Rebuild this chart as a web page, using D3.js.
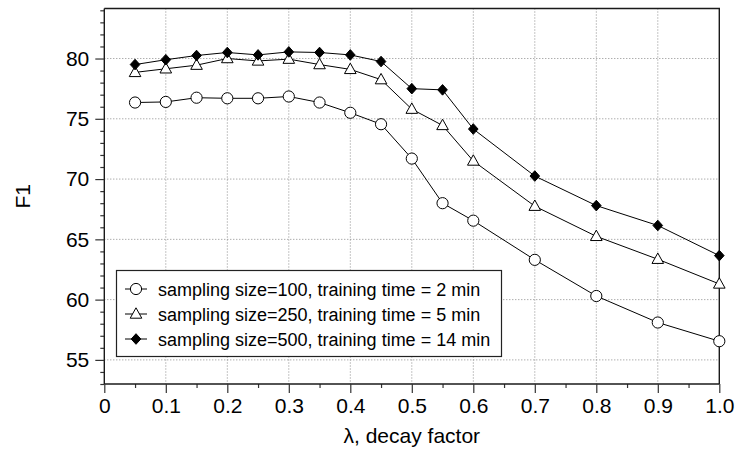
<!DOCTYPE html>
<html>
<head>
<meta charset="utf-8">
<script src="https://cdn.jsdelivr.net/npm/d3@7"></script>
<style>
  html, body { margin: 0; padding: 0; background: #fff; }
  svg { display: block; font-family: "Liberation Sans", Arial, Helvetica, sans-serif; }
</style>
</head>
<body>
<svg id="chart" width="737" height="449"></svg>
<script>
// ---- data ----
const lambdas = [0.05, 0.1, 0.15, 0.2, 0.25, 0.3, 0.35, 0.4, 0.45, 0.5, 0.55, 0.6, 0.7, 0.8, 0.9, 1.0];
const f1Size100 = [76.35, 76.4, 76.75, 76.7, 76.7, 76.85, 76.35, 75.5, 74.55, 71.7, 68.0, 66.55, 63.3, 60.3, 58.1, 56.55];
const f1Size250 = [78.85, 79.15, 79.45, 80.0, 79.8, 79.95, 79.5, 79.1, 78.25, 75.8, 74.45, 71.5, 67.75, 65.25, 63.35, 61.3];
const f1Size500 = [79.5, 79.9, 80.25, 80.5, 80.3, 80.55, 80.5, 80.3, 79.75, 77.5, 77.4, 74.15, 70.25, 67.8, 66.15, 63.65];
const seriesLabels = [
  "sampling size=100, training time = 2 min",
  "sampling size=250, training time = 5 min",
  "sampling size=500, training time = 14 min"
];
const xTicks = [0, 0.1, 0.2, 0.3, 0.4, 0.5, 0.6, 0.7, 0.8, 0.9, 1.0];
const xTickLabels = ["0", "0.1", "0.2", "0.3", "0.4", "0.5", "0.6", "0.7", "0.8", "0.9", "1.0"];
const yTicks = [55, 60, 65, 70, 75, 80];
const xLabel = "λ, decay factor";
const yLabel = "F1";

// ---- layout ----
const svg = d3.select("#chart");
const pL = 104.3, pR = 719.3, pT = 8.5, pB = 384;
const x = d3.scaleLinear().domain([0, 1]).range([pL, pR]);
const y = d3.scaleLinear().domain([53, 84.15]).range([pB, pT]);

// gridlines
const grid = svg.append("g").attr("stroke", "#8a8a8a").attr("stroke-width", 1).attr("stroke-dasharray", "1,2");
xTicks.filter(v => v > 0 && v < 1).forEach(v => {
  grid.append("line").attr("x1", x(v)).attr("x2", x(v)).attr("y1", pT).attr("y2", pB);
});
yTicks.forEach(v => {
  grid.append("line").attr("x1", pL).attr("x2", pR).attr("y1", y(v)).attr("y2", y(v));
});

// frame top and right
svg.append("path")
  .attr("d", `M${pL},${pT}H${pR}V${pB}`)
  .attr("fill", "none").attr("stroke", "#1a1a1a").attr("stroke-width", 1.4);

// minor ticks
const xMinor = d3.range(0.05, 1, 0.1);
const yMinor = d3.range(53, 85, 1).filter(v => v % 5 !== 0);
const xMinorAxis = d3.axisBottom(x).tickValues(xMinor).tickSize(4).tickFormat("");
const yMinorAxis = d3.axisLeft(y).tickValues(yMinor).tickSize(4).tickFormat("");
svg.append("g").attr("transform", `translate(0,${pB})`).call(xMinorAxis)
  .call(g => g.select(".domain").remove());
svg.append("g").attr("transform", `translate(${pL},0)`).call(yMinorAxis)
  .call(g => g.select(".domain").remove());

// major axes
const xAxis = d3.axisBottom(x).tickValues(xTicks).tickSize(9).tickPadding(5)
  .tickFormat((d, i) => xTickLabels[i]);
const yAxis = d3.axisLeft(y).tickValues(yTicks).tickSize(9).tickPadding(6).tickFormat(d3.format("d"));
const gx = svg.append("g").attr("transform", `translate(0,${pB})`).call(xAxis);
const gy = svg.append("g").attr("transform", `translate(${pL},0)`).call(yAxis);
[gx, gy].forEach(g => {
  g.select(".domain").attr("stroke", "#1a1a1a").attr("stroke-width", 1.4);
  g.selectAll("text").attr("font-size", 21).attr("fill", "#000")
    .attr("font-family", "'Liberation Sans', Arial, sans-serif");
});
svg.selectAll(".tick line").attr("stroke", "#333").attr("stroke-width", 1.2);
gx.select(".domain").attr("d", `M${pL},0H${pR}`);
gy.select(".domain").attr("d", `M0,${pB}V${pT}`);

// axis labels
svg.append("text").attr("x", (pL + pR) / 2).attr("y", 443)
  .attr("text-anchor", "middle").attr("font-size", 21).text(xLabel);
svg.append("text").attr("transform", `translate(30,${(pT + pB) / 2}) rotate(-90)`)
  .attr("text-anchor", "middle").attr("font-size", 21).text(yLabel);

// symbols
const diamondType = { draw(ctx, size) { ctx.moveTo(0, -5.3); ctx.lineTo(4.8, 0); ctx.lineTo(0, 5.3); ctx.lineTo(-4.8, 0); ctx.closePath(); } };
const circleType = { draw(ctx, size) { ctx.moveTo(5.6, 0); ctx.arc(0, 0, 5.6, 0, Math.PI * 2); } };
const triType = { draw(ctx, size) { ctx.moveTo(0, -6.2); ctx.lineTo(5.8, 4.2); ctx.lineTo(-5.8, 4.2); ctx.closePath(); } };
const series = [
  { values: f1Size100, sym: circleType, fill: "#fff" },
  { values: f1Size250, sym: triType, fill: "#fff" },
  { values: f1Size500, sym: diamondType, fill: "#000" }
];
const line = d3.line().x(d => x(d[0])).y(d => y(d[1]));
series.forEach(s => {
  const pts = lambdas.map((l, i) => [l, s.values[i]]);
  svg.append("path").attr("d", line(pts)).attr("fill", "none").attr("stroke", "#000").attr("stroke-width", 1);
  svg.append("g").selectAll("path").data(pts).join("path")
    .attr("transform", d => `translate(${x(d[0])},${y(d[1])})`)
    .attr("d", d3.symbol().type(s.sym)())
    .attr("fill", s.fill).attr("stroke", "#000").attr("stroke-width", 1);
});

// legend
const lg = svg.append("g");
lg.append("rect").attr("x", 116.5).attr("y", 270.5).attr("width", 385).attr("height", 86)
  .attr("fill", "#fff").attr("stroke", "#222").attr("stroke-width", 1.2);
series.forEach((s, i) => {
  const cy = 289 + i * 25;
  lg.append("line").attr("x1", 125).attr("x2", 147).attr("y1", cy).attr("y2", cy)
    .attr("stroke", "#000").attr("stroke-width", 1);
  lg.append("path").attr("transform", `translate(136,${cy})`).attr("d", d3.symbol().type(s.sym)())
    .attr("fill", s.fill).attr("stroke", "#000").attr("stroke-width", 1);
  lg.append("text").attr("x", 158).attr("y", cy + 6.5).attr("font-size", 18).attr("fill", "#000")
    .text(seriesLabels[i]);
});
</script>
</body>
</html>
